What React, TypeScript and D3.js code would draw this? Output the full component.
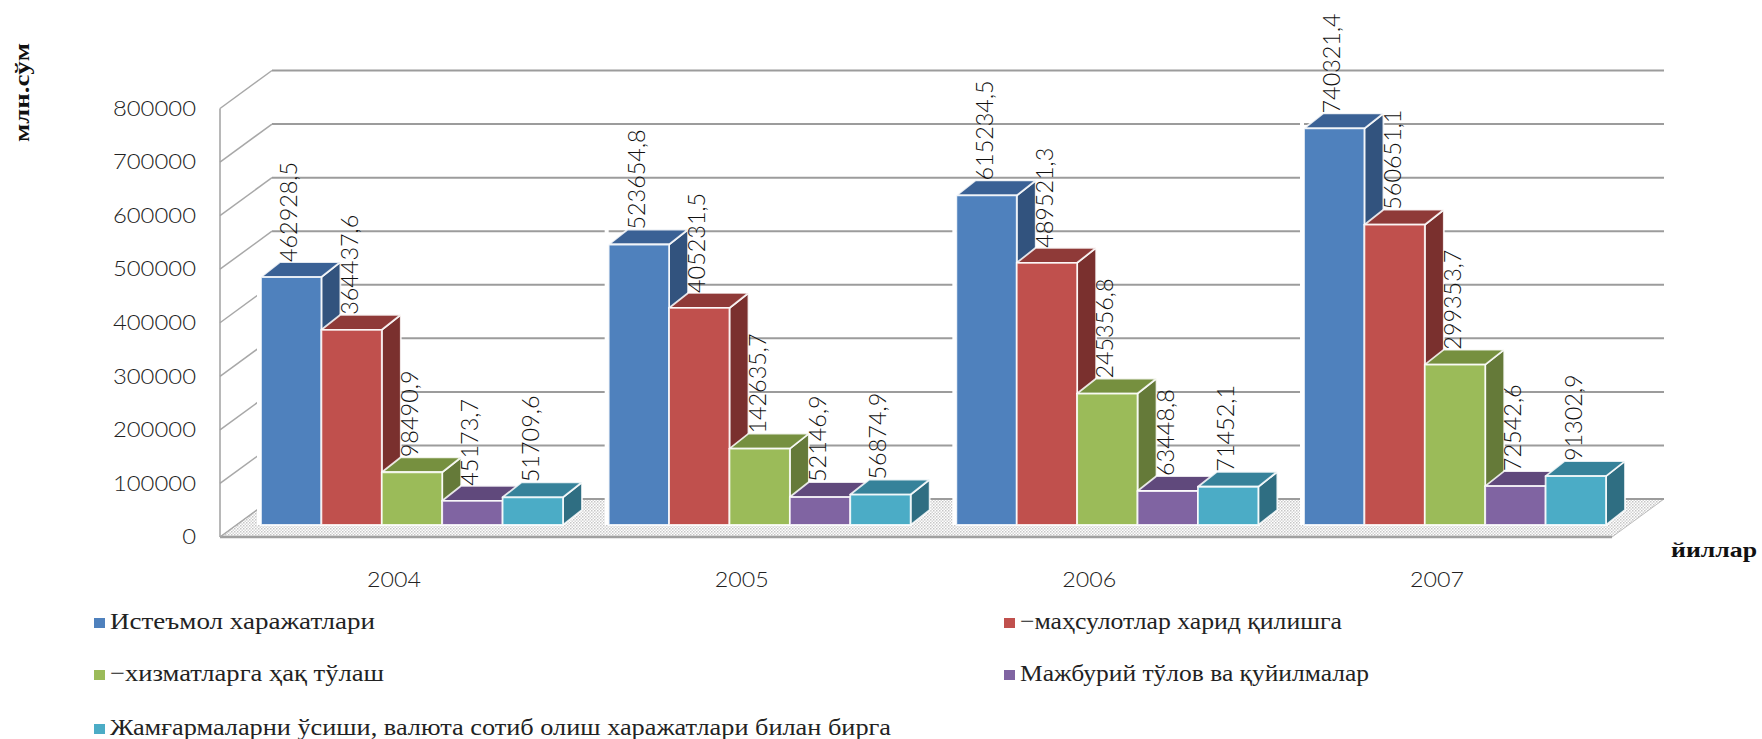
import React from "react";
import * as d3 from "d3";

const years = ["2004", "2005", "2006", "2007"];
const seriesNames = [
  "Истеъмол харажатлари",
  "−маҳсулотлар харид қилишга",
  "−хизматларга ҳақ тўлаш",
  "Мажбурий тўлов ва қуйилмалар",
  "Жамғармаларни ўсиши, валюта сотиб олиш харажатлари билан бирга",
];
const consumption = [462928.5, 523654.8, 615234.5, 740321.4];
const goods = [364437.6, 405231.5, 489521.3, 560651.1];
const services = [98490.9, 142635.7, 245356.8, 299353.7];
const mandatory = [45173.7, 52146.9, 63448.8, 72542.6];
const savings = [51709.6, 56874.9, 71452.1, 91302.9];
const seriesValues = [consumption, goods, services, mandatory, savings];
const yTicks = [0, 100000, 200000, 300000, 400000, 500000, 600000, 700000, 800000];
const frontColors = ["#4F81BD", "#C0504D", "#9BBB59", "#8064A2", "#4BACC6"];
const sideColors = ["#32537E", "#7A302E", "#657A39", "#56426F", "#2F6E82"];
const topColors = ["#3A6195", "#8F3A38", "#76903F", "#60497C", "#36829A"];

const W = 1762, H = 739;
const wallDx = 52, wallDy = 38;
const axisX = 220, frontBase = 537, backBase = frontBase - wallDy, barBase = 525;
const rightFront = 1612, rightBack = 1664;
const barDx = 19, barDy = 15;

const heightScale = d3.scaleLinear().domain([0, 800000]).range([0, 428.5]);
const x0 = d3.scaleBand<string>().domain(years).range([261, 1606]).paddingInner(0.1314);
const x1 = d3.scaleBand<number>().domain(d3.range(5)).range([0, x0.bandwidth()]);

const pts = (a: number[][]) => a.map((p) => p.join(",")).join(" ");
const fmt = (v: number) => d3.format(".1f")(v).replace(".", ",");
const sans = "Lato, 'Liberation Sans', sans-serif";
const serif = "'Liberation Serif', serif";

const legendPos = [
  { sx: 94, tx: 110, ty: 623, len: 265 },
  { sx: 1004, tx: 1020, ty: 623, len: 322 },
  { sx: 94, tx: 110, ty: 675, len: 274 },
  { sx: 1004, tx: 1020, ty: 675, len: 349 },
  { sx: 94, tx: 110, ty: 729, len: 781 },
];

export default function App() {
  return (
    <svg width={W} height={H} style={{ position: "absolute", left: 0, top: 0, background: "#fff" }}>
      <defs>
        <pattern id="hatch" width="3" height="3" patternUnits="userSpaceOnUse">
          <rect width="3" height="3" fill="#fff" />
          <rect width="1.5" height="1.5" fill="#c6c6c6" />
          <rect x="1.5" y="1.5" width="1.5" height="1.5" fill="#d6d6d6" />
        </pattern>
      </defs>

      {/* floor */}
      <polygon
        points={pts([[axisX, frontBase], [axisX + wallDx, backBase], [rightBack, backBase], [rightFront, frontBase]])}
        fill="url(#hatch)"
        stroke="#bcbcbc"
      />
      <line x1={axisX} x2={rightFront} y1={frontBase} y2={frontBase} stroke="#a0a0a0" strokeWidth={2.5} />

      {/* grid */}
      {yTicks.map((t) => {
        const h = heightScale(t);
        return (
          <g key={t}>
            <line x1={axisX + wallDx} x2={rightBack} y1={backBase - h} y2={backBase - h} stroke="#9c9c9c" strokeWidth={2} />
            <line x1={axisX} x2={axisX + wallDx} y1={frontBase - h} y2={backBase - h} stroke="#a8a8a8" strokeWidth={1.5} />
            <text
              x={196}
              y={frontBase - h + 2}
              textAnchor="end"
              dominantBaseline="middle"
              fontFamily={sans}
              fontWeight={300}
              fontSize={21}
              fill="#222"
              textLength={String(t).length * 13.85}
              lengthAdjust="spacingAndGlyphs"
            >
              {t}
            </text>
          </g>
        );
      })}
      <line x1={axisX} x2={axisX} y1={frontBase - heightScale(800000)} y2={frontBase} stroke="#a0a0a0" strokeWidth={1.5} />

      {/* bars */}
      {years.map((yr, i) => {
        const gx = x0(yr)!;
        const firstTop = barBase - heightScale(seriesValues[0][i]);
        return (
          <g key={yr}>
            <rect x={gx - 4} y={firstTop - barDy} width={4} height={barBase - firstTop + barDy} fill="#fff" />
            {seriesValues.map((vals, s) => {
              const v = vals[i];
              const l = gx + x1(s)!;
              const r = l + x1.bandwidth();
              const t = barBase - heightScale(v);
              return (
                <g key={s} stroke="#fff" strokeOpacity={0.85} strokeWidth={1.8} strokeLinejoin="round">
                  <polygon
                    points={pts([[r, t], [r + barDx, t - barDy], [r + barDx, barBase - barDy], [r, barBase]])}
                    fill={sideColors[s]}
                  />
                  <polygon
                    points={pts([[l, t], [l + barDx, t - barDy], [r + barDx, t - barDy], [r, t]])}
                    fill={topColors[s]}
                  />
                  <rect x={l} y={t} width={x1.bandwidth()} height={barBase - t} fill={frontColors[s]} />
                </g>
              );
            })}
          </g>
        );
      })}

      {/* data labels */}
      {years.map((yr, i) =>
        seriesValues.map((vals, s) => {
          const v = vals[i];
          const cx = x0(yr)! + x1(s)! + x1.bandwidth() / 2;
          const y = barBase - heightScale(v) - barDy;
          const str = fmt(v);
          return (
            <text
              key={yr + s}
              transform={`translate(${cx},${y}) rotate(-90)`}
              dominantBaseline="middle"
              fontFamily={sans}
              fontWeight={300}
              fontSize={24}
              fill="#111"
              textLength={(str.length - 1) * 13.3 + 7}
              lengthAdjust="spacingAndGlyphs"
            >
              {str}
            </text>
          );
        })
      )}

      {/* category labels */}
      {years.map((yr) => (
        <text
          key={yr}
          x={x0(yr)! + x0.bandwidth() / 2 - 18}
          y={582}
          textAnchor="middle"
          dominantBaseline="middle"
          fontFamily={sans}
          fontWeight={300}
          fontSize={21}
          fill="#222"
          textLength={54}
          lengthAdjust="spacingAndGlyphs"
        >
          {yr}
        </text>
      ))}

      {/* axis titles */}
      <text
        transform="translate(24,142) rotate(-90)"
        dominantBaseline="middle"
        fontFamily={serif}
        fontWeight="bold"
        fontSize={21}
        fill="#111"
        textLength={99}
        lengthAdjust="spacingAndGlyphs"
      >
        млн.сўм
      </text>
      <text
        x={1671}
        y={552}
        dominantBaseline="middle"
        fontFamily={serif}
        fontWeight="bold"
        fontSize={21}
        fill="#111"
        textLength={86}
        lengthAdjust="spacingAndGlyphs"
      >
        йиллар
      </text>

      {/* legend */}
      {seriesNames.map((name, s) => {
        const p = legendPos[s];
        return (
          <g key={name}>
            <rect x={p.sx} y={p.ty - 5} width={11} height={10} fill={frontColors[s]} />
            <text
              x={p.tx}
              y={p.ty}
              dominantBaseline="middle"
              fontFamily={serif}
              fontSize={24}
              fill="#222"
              textLength={p.len}
              lengthAdjust="spacingAndGlyphs"
            >
              {name}
            </text>
          </g>
        );
      })}
    </svg>
  );
}
